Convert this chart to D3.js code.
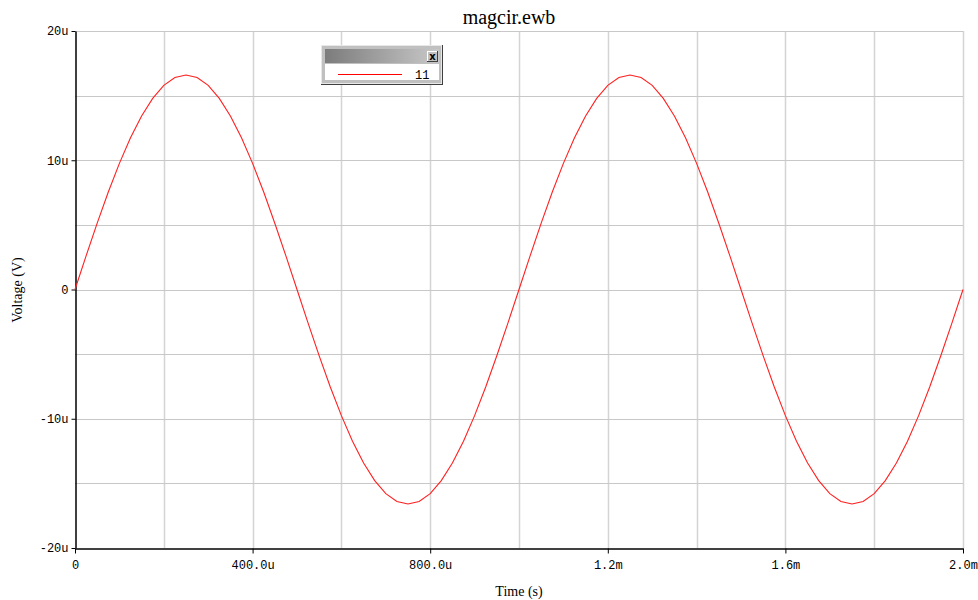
<!DOCTYPE html>
<html>
<head>
<meta charset="utf-8">
<script src="https://cdn.jsdelivr.net/npm/d3@7"></script>
<style>
  body { margin: 0; background: #fff; }
  svg { display: block; }
</style>
</head>
<body>
<svg id="chart" width="978" height="600"></svg>
<script>
// time in seconds (every 25u), voltage in volts
const timeStep = 25e-6;
const voltage = [
  0, 2.60, 5.13, 7.54, 9.76, 11.74, 13.43, 14.79, 15.79, 16.40,
  16.60, 16.40, 15.79, 14.79, 13.43, 11.74, 9.76, 7.54, 5.13, 2.60,
  0, -2.60, -5.13, -7.54, -9.76, -11.74, -13.43, -14.79, -15.79, -16.40,
  -16.60, -16.40, -15.79, -14.79, -13.43, -11.74, -9.76, -7.54, -5.13, -2.60,
  0, 2.60, 5.13, 7.54, 9.76, 11.74, 13.43, 14.79, 15.79, 16.40,
  16.60, 16.40, 15.79, 14.79, 13.43, 11.74, 9.76, 7.54, 5.13, 2.60,
  0, -2.60, -5.13, -7.54, -9.76, -11.74, -13.43, -14.79, -15.79, -16.40,
  -16.60, -16.40, -15.79, -14.79, -13.43, -11.74, -9.76, -7.54, -5.13, -2.60,
  0
].map(v => v * 1e-6);
const xTicks = [0, 400e-6, 800e-6, 1.2e-3, 1.6e-3, 2.0e-3];
const xTickLabels = ["0", "400.0u", "800.0u", "1.2m", "1.6m", "2.0m"];
const xGrid = [200e-6, 400e-6, 600e-6, 800e-6, 1.0e-3, 1.2e-3, 1.4e-3, 1.6e-3, 1.8e-3, 2.0e-3];
const yTicks = [-20e-6, -10e-6, 0, 10e-6, 20e-6];
const yTickLabels = ["-20u", "-10u", "0", "10u", "20u"];
const yGrid = [-15e-6, -10e-6, -5e-6, 0, 5e-6, 10e-6, 15e-6, 20e-6];
const seriesName = "11";

const margin = {top: 31, right: 15, bottom: 52, left: 75};
const width = 978, height = 600;
const svg = d3.select("#chart");

const x = d3.scaleLinear([0, 2e-3], [margin.left, width - margin.right]);
const y = d3.scaleLinear([-20e-6, 20e-6], [height - margin.bottom, margin.top]);

// grid
svg.append("g").selectAll("line").data(xGrid).join("line")
  .attr("x1", d => Math.round(x(d)) + 0.5).attr("x2", d => Math.round(x(d)) + 0.5)
  .attr("y1", margin.top).attr("y2", height - margin.bottom)
  .attr("stroke", "#d4d4d4").attr("stroke-width", 1.5);
svg.append("g").selectAll("line").data(yGrid).join("line")
  .attr("y1", d => Math.round(y(d)) + 0.5).attr("y2", d => Math.round(y(d)) + 0.5)
  .attr("x1", margin.left).attr("x2", width - margin.right)
  .attr("stroke", "#c8c8c8").attr("stroke-width", 1);

// axes
const xAxis = d3.axisBottom(x).tickValues(xTicks)
  .tickFormat((d, i) => xTickLabels[i]).tickSize(5).tickSizeOuter(0);
const yAxis = d3.axisLeft(y).tickValues(yTicks)
  .tickFormat((d, i) => yTickLabels[i]).tickSize(4).tickSizeOuter(0);

const gx = svg.append("g")
  .attr("transform", `translate(0,${Math.round(y(-20e-6)) + 0.5})`)
  .call(xAxis);
const gy = svg.append("g")
  .attr("transform", `translate(${margin.left + 0.5},0)`)
  .call(yAxis);
[gx, gy].forEach(g => {
  g.select(".domain").attr("stroke", "#000").attr("stroke-width", 1.5);
  g.selectAll(".tick line").attr("stroke", "#000");
  g.selectAll("text").attr("font-family", "'Liberation Mono', monospace")
    .attr("font-size", 12).attr("fill", "#000");
});
gx.selectAll("text").attr("dy", "1.05em");
gy.selectAll("text").attr("x", -7).attr("dy", "0.32em");

// trace
const line = d3.line()
  .x((d, i) => x(i * timeStep))
  .y(d => y(d));
svg.append("path").datum(voltage)
  .attr("fill", "none").attr("stroke", "#ff2020").attr("stroke-width", 1.1)
  .attr("d", line);

// titles
svg.append("text").attr("x", 509).attr("y", 24)
  .attr("text-anchor", "middle")
  .attr("font-family", "'Liberation Serif', serif").attr("font-size", 20)
  .text("magcir.ewb");
svg.append("text").attr("x", 519).attr("y", 596)
  .attr("text-anchor", "middle")
  .attr("font-family", "'Liberation Serif', serif").attr("font-size", 14)
  .text("Time (s)");
svg.append("text")
  .attr("transform", "translate(22,290) rotate(-90)")
  .attr("text-anchor", "middle")
  .attr("font-family", "'Liberation Serif', serif").attr("font-size", 14)
  .text("Voltage (V)");

// legend window
const lg = svg.append("g").attr("transform", "translate(321,45)");
const defs = svg.append("defs");
const grad = defs.append("linearGradient").attr("id", "titlebar");
grad.append("stop").attr("offset", "0%").attr("stop-color", "#7c7c7c");
grad.append("stop").attr("offset", "100%").attr("stop-color", "#c8c8c8");

lg.append("rect").attr("x", 0).attr("y", 0).attr("width", 122).attr("height", 40).attr("fill", "#404040");
lg.append("rect").attr("x", 0).attr("y", 0).attr("width", 121).attr("height", 39).attr("fill", "#e8e8e8");
lg.append("rect").attr("x", 1).attr("y", 1).attr("width", 119).attr("height", 37).attr("fill", "#c0c0c0");
lg.append("rect").attr("x", 4).attr("y", 4).attr("width", 114).attr("height", 14).attr("fill", "url(#titlebar)");
lg.append("rect").attr("x", 4).attr("y", 19).attr("width", 114).attr("height", 16).attr("fill", "#fff");
// close button
lg.append("rect").attr("x", 106).attr("y", 6).attr("width", 11).attr("height", 11).attr("fill", "#404040");
lg.append("rect").attr("x", 106).attr("y", 6).attr("width", 10).attr("height", 10).attr("fill", "#fff");
lg.append("rect").attr("x", 107).attr("y", 7).attr("width", 9).attr("height", 9).attr("fill", "#c0c0c0");
lg.append("text").attr("x", 111.5).attr("y", 15).attr("text-anchor", "middle")
  .attr("font-family", "'DejaVu Sans', sans-serif").attr("font-size", 10).attr("font-weight", "bold")
  .text("x");
lg.append("line").attr("x1", 17).attr("x2", 81).attr("y1", 29.5).attr("y2", 29.5)
  .attr("stroke", "#ff0000").attr("stroke-width", 1);
lg.append("text").attr("x", 94).attr("y", 33.5)
  .attr("font-family", "'Liberation Mono', monospace").attr("font-size", 12)
  .text(seriesName);
</script>
</body>
</html>
